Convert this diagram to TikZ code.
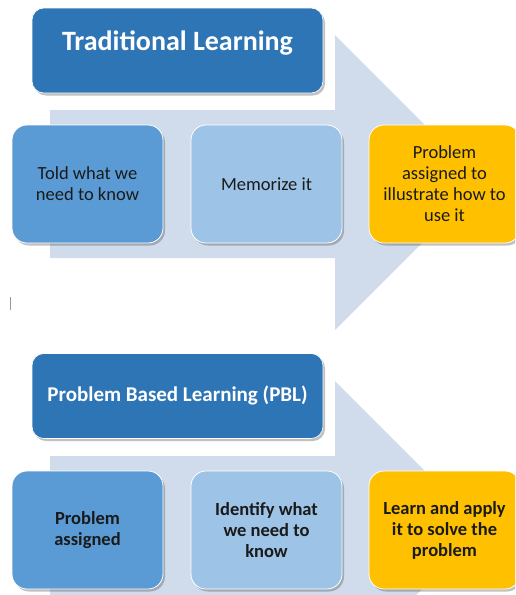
\documentclass[tikz,border=0pt]{standalone}
\usepackage{fontspec}
\setmainfont{Carlito}
\usepackage{xcolor}
\usetikzlibrary{shadows}

\definecolor{titleblue}{HTML}{2E75B6}
\definecolor{midblue}{HTML}{5B9BD5}
\definecolor{paleblue}{HTML}{9DC3E6}
\definecolor{goldbox}{HTML}{FFC000}
\definecolor{arrowbg}{HTML}{D0DCEC}
\definecolor{boxtext}{HTML}{1A1A1A}

\tikzset{
  boxshadow/.style={drop shadow={shadow xshift=2pt, shadow yshift=-2.5pt, opacity=0.35, fill=black!70}},
  titlebox/.style={fill=titleblue, draw=white, line width=0.6pt, rounded corners=12pt,
    minimum width=291pt, minimum height=85pt, boxshadow},
  titletext/.style={text=white, font=\bfseries, inner sep=0pt},
  stagebox/.style={draw=white, line width=0.8pt, rounded corners=15pt, minimum width=151pt,
    minimum height=118pt, align=center, text=boxtext, boxshadow,
    font=\fontsize{18.5}{21}\selectfont}
}

\begin{document}
\begin{tikzpicture}[x=1pt, y=-1pt]
\useasboundingbox (0,0) rectangle (515,595);
\clip (0,0) rectangle (515,595);

% Background arrows
\foreach \dy in {0,346} {
    \fill[arrowbg] (50,110+\dy) -- (335,110+\dy) -- (335,35+\dy) -- (482.5,182.5+\dy)
        -- (335,330+\dy) -- (335,258+\dy) -- (50,258+\dy) -- cycle;
}

% Traditional learning
\node[titlebox] (trad) at (177.5,50.5) {};
\node[titletext, font=\bfseries\fontsize{28}{33}\selectfont] (tradlbl) at (177.5,43) {Traditional Learning};
\node[stagebox, fill=midblue] (told) at (87.5,184) {Told what we\\need to know};
\node[stagebox, fill=paleblue] (memo) at (266.5,184) {Memorize it};
\node[stagebox, fill=goldbox] (illus) at (444.5,184) {Problem\\assigned to\\illustrate how to\\use it};

% text cursor
\draw[gray!80, line width=0.6pt] (10,297) -- (10,310);

% Problem based learning
\node[titlebox] (pbl) at (177.5,396) {};
\node[titletext, font=\bfseries\fontsize{21}{25}\selectfont] (pbllbl) at (177.5,395) {Problem Based Learning (PBL)};
\node[stagebox, fill=midblue, font=\bfseries\fontsize{18.5}{21}\selectfont] (assign) at (87.5,530) {Problem\\assigned};
\node[stagebox, fill=paleblue, font=\bfseries\fontsize{18.5}{21}\selectfont] (ident) at (266.5,530) {Identify what\\we need to\\know};
\node[stagebox, fill=goldbox, font=\bfseries\fontsize{18.5}{21}\selectfont] (apply) at (444.5,530) {Learn and apply\\it to solve the\\problem};
\end{tikzpicture}
\end{document}
